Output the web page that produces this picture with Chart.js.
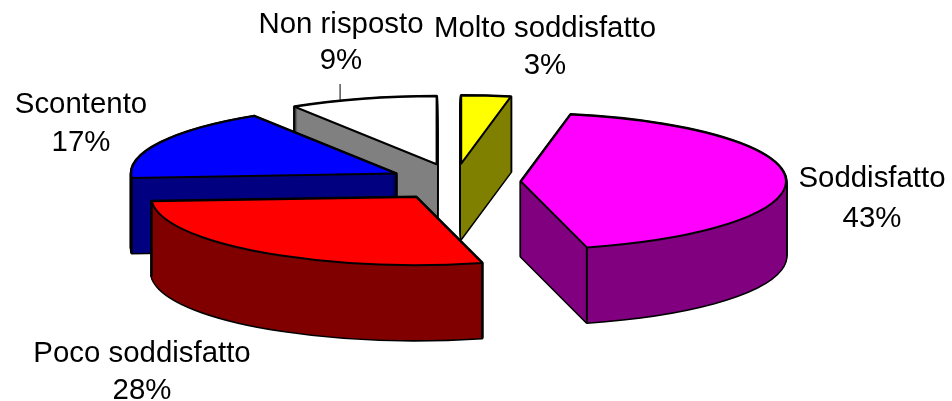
<!DOCTYPE html>
<html>
<head>
<meta charset="utf-8">
<style>html,body{margin:0;padding:0;background:#fff}#wrap{width:952px;height:401px;position:relative}</style>
<script src="https://cdn.jsdelivr.net/npm/chart.js@4"></script>
</head>
<body>
<div id="wrap"><canvas id="c" width="952" height="401"></canvas></div>
<script>
const categories = ["Molto soddisfatto", "Soddisfatto", "Poco soddisfatto", "Scontento", "Non risposto"];
const shares = [3, 43, 28, 17, 9];
const topColors = ["#FFFF00", "#FF00FF", "#FF0000", "#0000FF", "#FFFFFF"];
const sideColors = ["#808000", "#800080", "#800000", "#000080", "#808080"];
const paintOrder = [4, 0, 3, 1, 2];

const tilt = 0.257, depth = 75, explode = 66, explodeTilt = 0.28, radius = 265;
const labelAnchors = [[545, 37, 74], [872, 187, 227], [142, 362, 399], [81, 113, 151], [341, 33, 69]];

const pie3d = {
  id: "pie3d",
  beforeDatasetsDraw(chart) {
    const ctx = chart.ctx;
    const arcs = chart.getDatasetMeta(0).data;
    const geo = arcs.map(a => {
      const p = a.getProps(["x", "y", "startAngle", "endAngle", "outerRadius"], true);
      const mid = (p.startAngle + p.endAngle) / 2;
      return {
        cx: p.x + Math.cos(mid) * explode,
        cy: p.y + Math.sin(mid) * explode * explodeTilt,
        r: p.outerRadius, s: p.startAngle, e: p.endAngle
      };
    });
    const wedge = (g, dy) => {
      ctx.beginPath();
      ctx.moveTo(g.cx, g.cy + dy);
      ctx.ellipse(g.cx, g.cy + dy, g.r, g.r * tilt, 0, g.s, g.e);
      ctx.closePath();
    };
    ctx.save();
    ctx.lineJoin = "round";
    paintOrder.forEach(i => {
      const g = geo[i];
      ctx.strokeStyle = "#000";
      ctx.lineWidth = 3;
      for (let d = depth; d >= 0; d -= 1) { wedge(g, d); ctx.stroke(); }
      ctx.fillStyle = sideColors[i];
      for (let d = depth; d >= 0; d -= 1) { wedge(g, d); ctx.fill(); }
      ctx.lineWidth = 2;
      [g.s, g.e].forEach(t => {
        if (Math.sin(t) > 0) {
          const x = g.cx + Math.cos(t) * g.r, y = g.cy + Math.sin(t) * g.r * tilt;
          ctx.beginPath(); ctx.moveTo(x, y); ctx.lineTo(x, y + depth); ctx.stroke();
        }
      });
      wedge(g, 0);
      ctx.fillStyle = topColors[i];
      ctx.fill();
      ctx.stroke();
    });
    // leader line of the last slice
    const w = geo[4];
    const t = (w.s + w.e) / 2 - 0.09;
    const lx = w.cx + Math.cos(t) * w.r, ly = w.cy + Math.sin(t) * w.r * tilt;
    ctx.lineWidth = 1;
    ctx.beginPath(); ctx.moveTo(lx, ly); ctx.lineTo(lx, 84); ctx.stroke();

    ctx.fillStyle = "#000";
    ctx.font = '29.4px "Liberation Sans"';
    ctx.textAlign = "center";
    ctx.textBaseline = "alphabetic";
    const total = shares.reduce((a, b) => a + b, 0);
    categories.forEach((name, i) => {
      const [x, y1, y2] = labelAnchors[i];
      ctx.fillText(name, x, y1);
      ctx.fillText(Math.round(shares[i] / total * 100) + "%", x, y2);
    });
    ctx.restore();
    return false;
  }
};

new Chart(document.getElementById("c"), {
  type: "pie",
  data: { labels: categories, datasets: [{ data: shares, backgroundColor: topColors, borderColor: "#000", borderWidth: 2 }] },
  options: {
    responsive: false,
    animation: false,
    radius: radius,
    layout: { padding: { left: 0, top: 0, right: 42, bottom: 37 } },
    plugins: { legend: { display: false }, tooltip: { enabled: false } }
  },
  plugins: [pie3d]
});
</script>
</body>
</html>
